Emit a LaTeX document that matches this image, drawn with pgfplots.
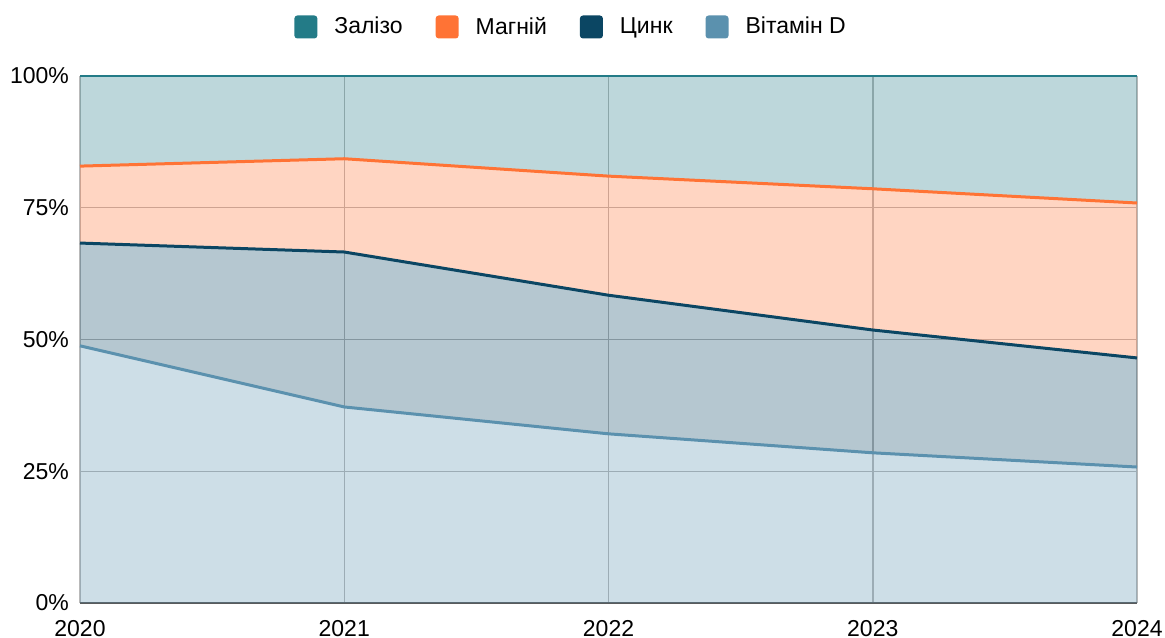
\documentclass[border=0pt]{standalone}
\usepackage{fontspec}
\setmainfont{Liberation Sans}
\usepackage{pgfplots}
\pgfplotsset{compat=1.18}
\usepackage{pgfplotstable}
\usepgfplotslibrary{fillbetween}

\definecolor{iron}{HTML}{237B87}
\definecolor{magn}{HTML}{FF7335}
\definecolor{zinc}{HTML}{0B4663}
\definecolor{vitd}{HTML}{5B91AE}

% cumulative tops of the stacked shares (%)
\pgfplotstableread{
year vitd zinc magn iron
0 48.8 68.3 82.9 100
1 37.2 66.6 84.3 100
2 32.1 58.4 81.0 100
3 28.5 51.8 78.6 100
4 25.8 46.5 75.9 100
}\cum

\newcommand{\lgsq}[1]{\fill[#1, draw=none, rounded corners=1.5pt] (0pt,-5.75pt) rectangle (11.5pt,5.75pt); \path[draw=none] (0pt,0pt) -- (18pt,0pt);}

\begin{document}
\begin{tikzpicture}
\begin{axis}[
  at={(40pt,17pt)}, anchor=south west,
  scale only axis, width=528.5pt, height=263.5pt,
  xmin=0, xmax=4, ymin=0, ymax=100,
  xtick={0,1,2,3,4}, xticklabels={2020,2021,2022,2023,2024},
  ytick={0,25,50,75,100}, yticklabels={0\%,25\%,50\%,75\%,100\%},
  grid=major, grid style={draw=gray!55, line width=0.75pt},
  axis lines*=left,
  y axis line style={draw=none},
  x axis line style={draw=black!65, line width=1pt},
  major tick length=0pt,
  tick label style={font=\fontsize{11.5}{13}\selectfont},
  xticklabel style={yshift=-5pt},
  yticklabel style={xshift=-2pt},
  clip=false,
  legend style={at={(0.4655,1.093)}, anchor=center, draw=none, fill=none,
    font=\fontsize{11.5}{13}\selectfont,
    /tikz/every even column/.append style={column sep=14.5pt}},
  legend columns=4, legend cell align=left,
]
\addlegendimage{legend image code/.code={\lgsq{iron}}}
\addlegendentry{Залізо}
\addlegendimage{legend image code/.code={\lgsq{magn}}}
\addlegendentry{Магній}
\addlegendimage{legend image code/.code={\lgsq{zinc}}}
\addlegendentry{Цинк}
\addlegendimage{legend image code/.code={\lgsq{vitd}}}
\addlegendentry{Вітамін D}

\addplot[draw=none, name path=base, forget plot] coordinates {(0,0) (4,0)};
\addplot[draw=none, name path=pv, forget plot] table[x=year, y=vitd]{\cum};
\addplot[draw=none, name path=pz, forget plot] table[x=year, y=zinc]{\cum};
\addplot[draw=none, name path=pm, forget plot] table[x=year, y=magn]{\cum};
\addplot[draw=none, name path=pi, forget plot] table[x=year, y=iron]{\cum};

\addplot[fill=vitd, fill opacity=0.3, draw=none, forget plot] fill between[of=pv and base];
\addplot[fill=zinc, fill opacity=0.3, draw=none, forget plot] fill between[of=pz and pv];
\addplot[fill=magn, fill opacity=0.3, draw=none, forget plot] fill between[of=pm and pz];
\addplot[fill=iron, fill opacity=0.3, draw=none, forget plot] fill between[of=pi and pm];

\addplot[vitd, line width=1.5pt, forget plot] table[x=year, y=vitd]{\cum};
\addplot[zinc, line width=1.5pt, forget plot] table[x=year, y=zinc]{\cum};
\addplot[magn, line width=1.5pt, forget plot] table[x=year, y=magn]{\cum};
\addplot[iron, line width=1pt, forget plot] table[x=year, y=iron]{\cum};
\end{axis}
\pgfresetboundingbox
\path[use as bounding box] (0,0) rectangle (582.5pt,318.5pt);
\end{tikzpicture}
\end{document}
